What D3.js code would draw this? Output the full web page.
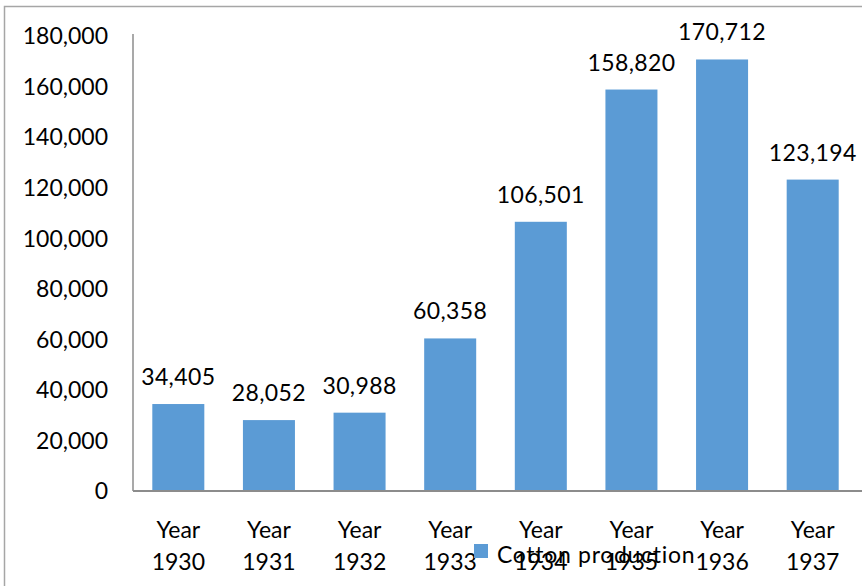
<!DOCTYPE html>
<html><head><meta charset="utf-8">
<script src="https://cdn.jsdelivr.net/npm/d3@7"></script>
<style>
html,body{margin:0;padding:0;background:#fff;overflow:hidden}
text{font-family:Lato,"Open Sans",sans-serif;fill:#000}
</style></head>
<body>
<svg id="c" width="862" height="586"></svg>
<script>
const categories = ["1930","1931","1932","1933","1934","1935","1936","1937"];
const values = [34405, 28052, 30988, 60358, 106501, 158820, 170712, 123194];
const yTicks = [0, 20000, 40000, 60000, 80000, 100000, 120000, 140000, 160000, 180000];
const seriesName = "Cotton production";

const svg = d3.select("#c");
const fs = 23;
const x0 = 133, x1 = 858, yTop = 36, yBase = 491;

svg.append("rect").attr("x",4.5).attr("y",6.5).attr("width",900).attr("height",700)
  .attr("fill","#fff").attr("stroke","#a6a6a6").attr("stroke-width",1.5);

const x = d3.scaleBand().domain(categories).range([x0, x1]).paddingInner(0.426).paddingOuter(0.213);
const y = d3.scaleLinear().domain([0,180000]).range([yBase, yTop]);
const fmt = d3.format(",");

// y axis labels
svg.append("g").selectAll("text").data(yTicks).join("text")
  .attr("x",108).attr("y",d=>y(d)).attr("dy","0.36em")
  .attr("text-anchor","end").attr("font-size",fs).text(d=>fmt(d));

// bars
svg.append("g").selectAll("rect").data(values).join("rect")
  .attr("x",(d,i)=>x(categories[i])).attr("width",x.bandwidth())
  .attr("y",d=>y(d)).attr("height",d=>yBase-y(d)).attr("fill","#5b9bd5");

// data labels
svg.append("g").selectAll("text").data(values).join("text")
  .attr("x",(d,i)=>x(categories[i])+x.bandwidth()/2).attr("y",d=>y(d)-19)
  .attr("text-anchor","middle").attr("font-size",fs).attr("letter-spacing",0.4).text(d=>fmt(d));

// axes lines
svg.append("line").attr("x1",x0).attr("x2",x0).attr("y1",34).attr("y2",yBase)
  .attr("stroke","#8c8c8c").attr("stroke-width",1.5);
svg.append("line").attr("x1",x0).attr("x2",862).attr("y1",yBase).attr("y2",yBase)
  .attr("stroke","#8c8c8c").attr("stroke-width",2);

// x labels
const xl = svg.append("g").selectAll("text").data(categories).join("text")
  .attr("text-anchor","middle").attr("font-size",fs);
xl.append("tspan").attr("x",d=>x(d)+x.bandwidth()/2).attr("y",538).text("Year");
xl.append("tspan").attr("x",d=>x(d)+x.bandwidth()/2).attr("y",570).text(d=>d);

// legend
svg.append("rect").attr("x",474).attr("y",544).attr("width",14).attr("height",14).attr("fill","#5b9bd5");
svg.append("text").attr("x",497).attr("y",563).attr("font-size",fs).attr("letter-spacing",0.7).text(seriesName);
</script>
</body></html>
